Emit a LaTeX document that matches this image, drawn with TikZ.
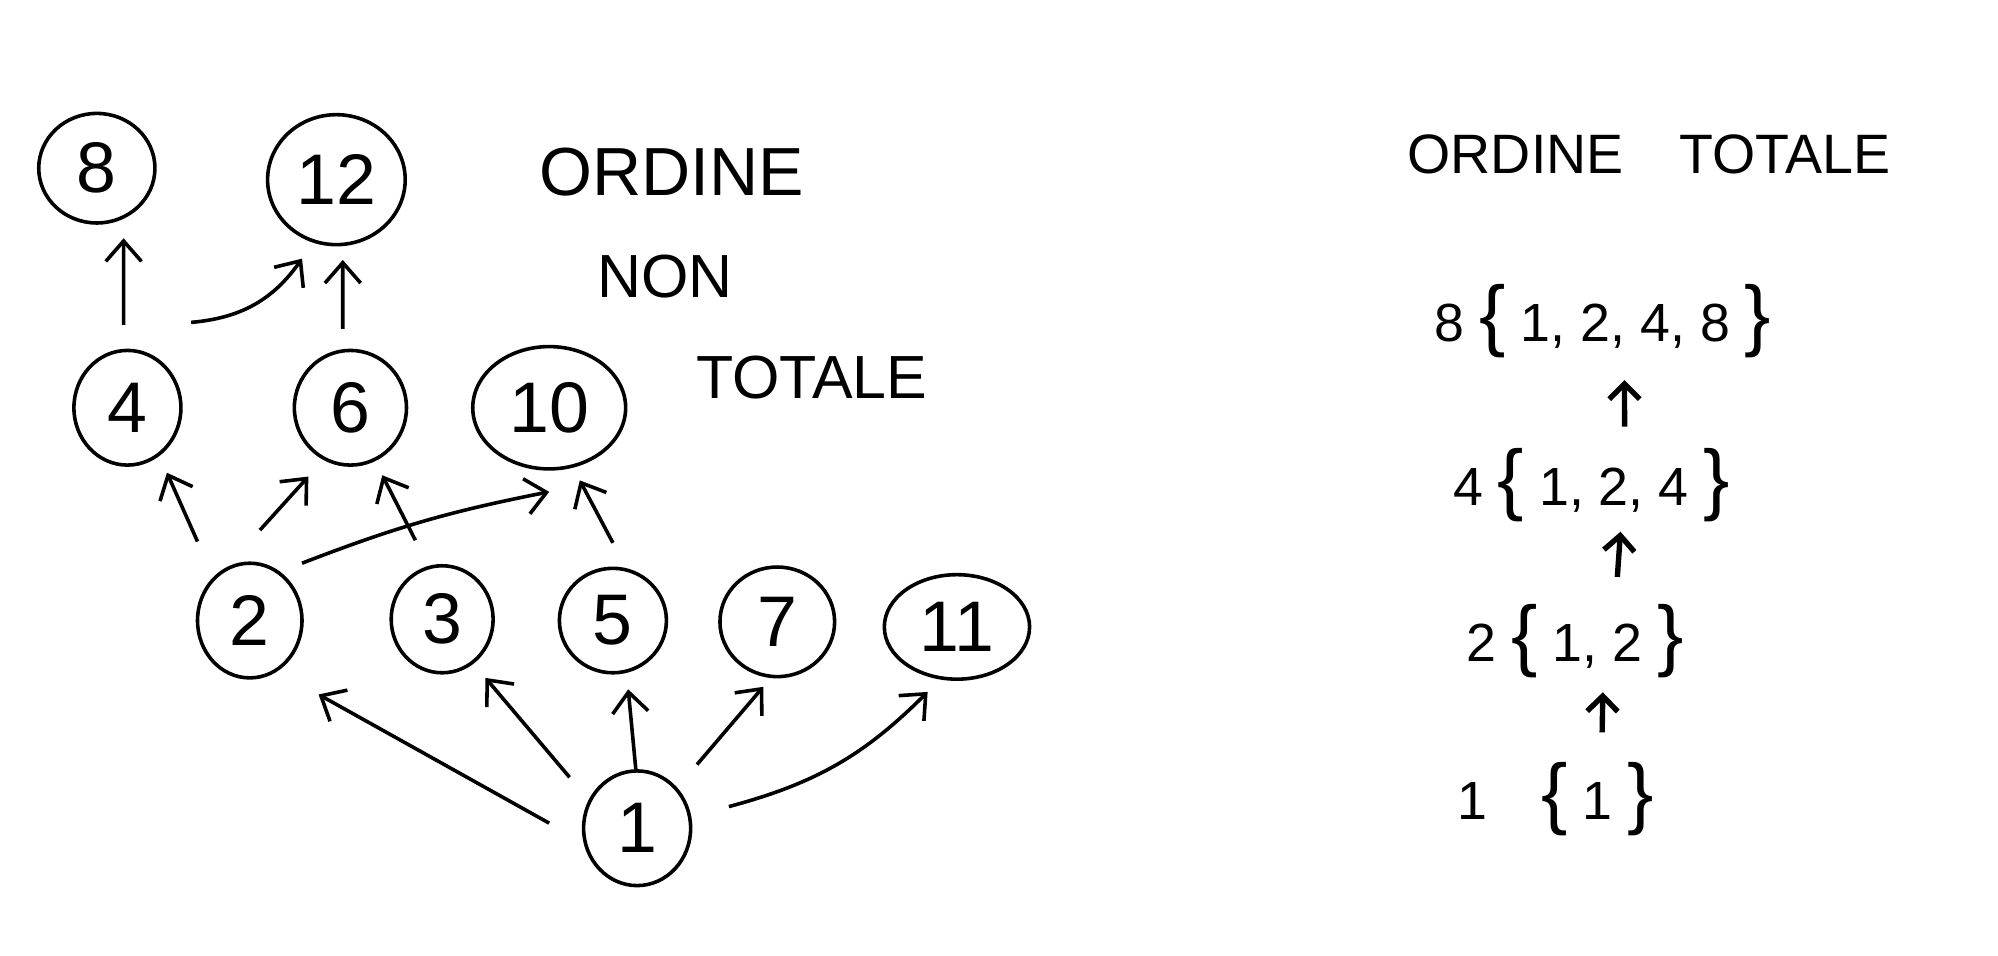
\documentclass[tikz,border=0pt]{standalone}
\usepackage{fontspec}
\setmainfont{Liberation Sans}
\usetikzlibrary{positioning, arrows.meta, shapes.geometric}

\newcommand{\lbr}{{\fontsize{44}{44}\selectfont\{}}
\newcommand{\rbr}{{\fontsize{44}{44}\selectfont\}}}

\tikzset{
    num/.style 2 args={draw, ellipse, line width=2pt, inner sep=0pt,
        minimum width=#1cm, minimum height=#2cm, font=\fontsize{40}{40}\selectfont},
    arr/.style={-{Straight Barb[length=4mm,width=7mm]}, line width=2pt},
    arrsmall/.style={-{Straight Barb[length=3mm,width=6mm]}, line width=3pt,
        shorten <=#1},
    title/.style={font=\fontsize{#1}{#1}\selectfont},
    setline/.style={inner sep=0pt, minimum height=1.6cm, font=\fontsize{30}{30}\selectfont}
}

\begin{document}
\begin{tikzpicture}
\useasboundingbox (0,0) rectangle (39.2,18.75);

% Divisors, one row per level
\node[num={2.28}{2.15}] (n8)  at (1.9,15.45)   {8};
\node[num={2.7}{2.55}]  (n12) at (6.6,15.225)  {12};
\node[num={2.1}{2.25}]  (n4)  at (2.5,10.75)   {4};
\node[num={2.2}{2.25}]  (n6)  at (6.875,10.75) {6};
\node[num={3.0}{2.4}]   (n10) at (10.775,10.75){10};
\node[num={2.05}{2.25}] (n2)  at (4.9,6.575)   {2};
\node[num={2.0}{2.1}]   (n3)  at (8.675,6.6)   {3};
\node[num={2.1}{2.05}]  (n5)  at (12.025,6.575){5};
\node[num={2.25}{2.15}] (n7)  at (15.25,6.55)  {7};
\node[num={2.85}{2.05}] (n11) at (18.775,6.45) {11};
\node[num={2.1}{2.25}]  (n1)  at (12.5,2.5)    {1};

% Order relation
\draw[arr] ([shift={(-.075,1.625)}]n4.center) -- ([shift={(.525,-1.375)}]n8.center);
\draw[arr] ([shift={(-.15,1.55)}]n6.center) -- ([shift={(.125,-1.575)}]n12.center);
\draw[arr] ([shift={(1.25,1.675)}]n4.center) to[bend right=25] ([shift={(-.675,-1.55)}]n12.center);
\draw[arr] ([shift={(-1.025,1.55)}]n2.center) -- ([shift={(.775,-1.275)}]n4.center);
\draw[arr] ([shift={(.2,1.775)}]n2.center) -- ([shift={(-.825,-1.35)}]n6.center);
\draw[arr] ([shift={(-.525,1.55)}]n3.center) -- ([shift={(.625,-1.325)}]n6.center);
\draw[arr] ([shift={(1.025,1.125)}]n2.center) to[bend left=5] ([shift={(0,-1.65)}]n10.center);
\draw[arr] ([shift={(0,1.525)}]n5.center) -- ([shift={(.6,-1.425)}]n10.center);
\draw[arr] ([shift={(-1.725,.1)}]n1.center) -- ([shift={(1.35,-1.45)}]n2.center);
\draw[arr] ([shift={(-1.325,1.0)}]n1.center) -- ([shift={(.85,-1.15)}]n3.center);
\draw[arr] ([shift={(-.025,1.15)}]n1.center) -- ([shift={(.3,-1.35)}]n5.center);
\draw[arr] ([shift={(1.175,1.25)}]n1.center) -- ([shift={(-.275,-1.275)}]n7.center);
\draw[arr] ([shift={(1.8,.425)}]n1.center) to[bend right=15] ([shift={(-.575,-1.275)}]n11.center);

% Titles
\node[title=38] (t1) at (13.175,15.375) {ORDINE};
\node[title=34] (t2) at (13.05,13.325)  {NON};
\node[title=34] (t3) at (15.925,11.35)  {TOTALE};
\node[title=31] (t4) at (32.35,15.725)  {ORDINE\quad TOTALE};

% Total order chain
\node[setline] (l8) at (31.45,12.45)  {8 \lbr{} 1, 2, 4, 8 \rbr};
\node[setline] (l4) at (31.225,9.225) {4 \lbr{} 1, 2, 4 \rbr};
\node[setline] (l2) at (30.9,6.175)   {2 \lbr{} 1, 2 \rbr};
\node[setline] (l1) at (30.525,3.075) {1\quad\lbr{} 1 \rbr};

\draw[arrsmall=.35cm, shorten >=.35cm] ([xshift=.65cm]l4.north) -- ([xshift=.42cm]l8.south);
\draw[arrsmall=.45cm, shorten >=.1cm]  ([xshift=.8cm]l2.north)  -- ([xshift=.575cm]l4.south);
\draw[arrsmall=.5cm, shorten >=.2cm]   ([xshift=.9cm]l1.north)  -- ([xshift=.55cm]l2.south);
\end{tikzpicture}
\end{document}
